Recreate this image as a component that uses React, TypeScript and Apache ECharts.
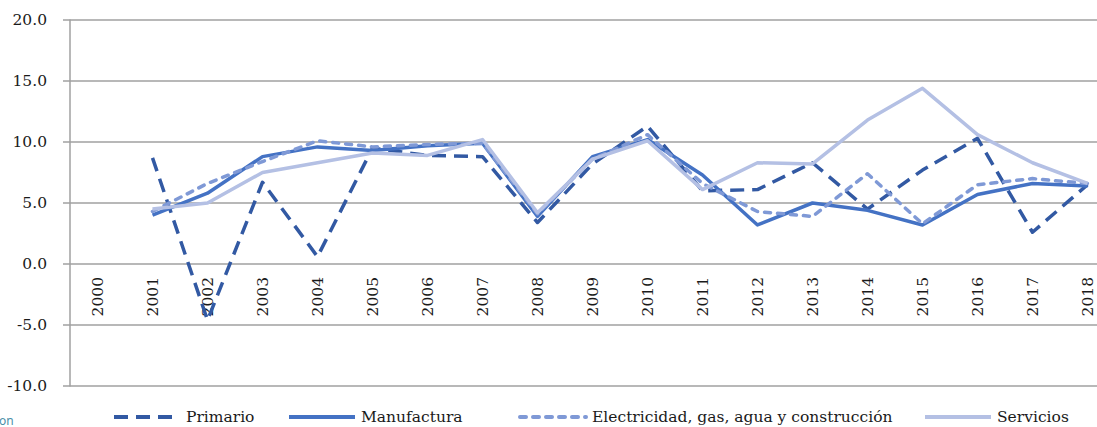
import React, { useEffect, useRef } from "react";
import * as echarts from "echarts";

const years = ["2000","2001","2002","2003","2004","2005","2006","2007","2008","2009","2010","2011","2012","2013","2014","2015","2016","2017","2018"];
const primario = [null, 8.7, -4.6, 6.7, 0.6, 9.5, 8.9, 8.8, 3.4, 8.2, 11.3, 6.0, 6.1, 8.3, 4.5, 7.7, 10.3, 2.6, 6.5];
const manufactura = [null, 4.0, 5.8, 8.8, 9.6, 9.3, 9.7, 9.9, 3.9, 8.8, 10.2, 7.3, 3.2, 5.0, 4.4, 3.2, 5.7, 6.6, 6.4];
const electricidad = [null, 4.3, 6.6, 8.4, 10.1, 9.6, 9.8, 9.9, 4.1, 8.6, 10.6, 6.6, 4.3, 3.9, 7.4, 3.3, 6.5, 7.0, 6.6];
const servicios = [null, 4.5, 5.0, 7.5, 8.3, 9.1, 8.9, 10.2, 4.2, 8.6, 10.1, 6.1, 8.3, 8.2, 11.8, 14.4, 10.6, 8.3, 6.6];
const seriesNames = ["Primario", "Manufactura", "Electricidad, gas, agua y construcción", "Servicios"];
const legendLefts = [112, 287, 518, 923];

const FONT = "DejaVu Serif";
const FS = 15.5;

export default function App() {
  const ref = useRef<HTMLDivElement>(null);
  useEffect(() => {
    if (!ref.current) return;
    const chart = echarts.init(ref.current, null, { renderer: "svg" });
    const mk = (name: string, data: (number | null)[], color: string, type: any, cap: any) => ({
      name,
      type: "line",
      data,
      symbol: "none",
      showSymbol: false,
      connectNulls: false,
      lineStyle: { color, width: 3.5, type, cap, join: "round" },
      itemStyle: { color },
    });
    chart.setOption({
      animation: false,
      textStyle: { fontFamily: FONT },
      grid: { left: 70, top: 20, width: 1045, height: 366, containLabel: false, outerBoundsMode: "none" },
      legend: seriesNames.map((n, i) => ({
        left: legendLefts[i],
        top: 409,
        padding: 0,
        itemWidth: 66,
        itemHeight: 18,
        itemStyle: { opacity: 0 },
        lineStyle: { width: 4 },
        textStyle: { fontFamily: FONT, fontSize: FS, color: "#1a1a1a", padding: [0, 0, 0, 1] },
        data: [n],
      })),
      xAxis: {
        type: "category",
        data: years,
        boundaryGap: true,
        position: "bottom",
        offset: -122,
        axisLine: { show: false, onZero: false },
        axisTick: { show: false },
        axisLabel: {
          rotate: 90,
          margin: 13,
          fontFamily: FONT,
          fontSize: FS,
          color: "#1a1a1a",
          interval: 0,
        },
      },
      yAxis: {
        type: "value",
        min: -10,
        max: 20,
        interval: 5,
        axisLine: { show: true, lineStyle: { color: "#a0a0a0", width: 1.5 } },
        axisTick: { show: true, length: 7, inside: false, lineStyle: { color: "#a0a0a0", width: 1.5 } },
        splitLine: { show: true, lineStyle: { color: "#a0a0a0", width: 1.5 } },
        axisLabel: {
          margin: 23,
          fontFamily: FONT,
          fontSize: FS,
          color: "#1a1a1a",
          formatter: (v: number) => v.toFixed(1),
        },
      },
      graphic: [
        {
          type: "text",
          left: -1,
          top: 414,
          style: { text: "on", fontSize: 12, fontFamily: "Noto Sans", fill: "#4a8fa8" },
        },
      ],
      series: [
        mk(seriesNames[0], primario, "#3259a3", [14, 8], "butt"),
        mk(seriesNames[1], manufactura, "#4472c4", "solid", "butt"),
        mk(seriesNames[2], electricidad, "#7f99d6", [6, 7], "round"),
        mk(seriesNames[3], servicios, "#b4c0e4", "solid", "butt"),
      ],
    });
    return () => chart.dispose();
  }, []);
  return (
    <div
      ref={ref}
      style={{ position: "fixed", left: 0, top: 0, width: 1097, height: 427, background: "#fff" }}
    />
  );
}
